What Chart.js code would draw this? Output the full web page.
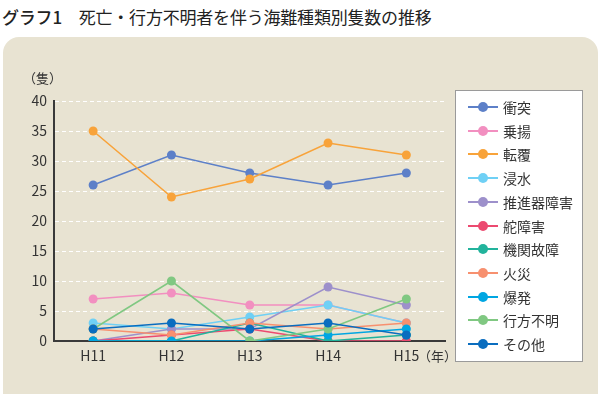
<!DOCTYPE html>
<html lang="ja">
<head>
<meta charset="utf-8">
<script src="https://cdn.jsdelivr.net/npm/chart.js@4/dist/chart.umd.min.js"></script>
<style>
  html, body { margin: 0; padding: 0; background: #fff; }
  body { width: 600px; height: 394px; position: relative; overflow: hidden;
         font-family: 'Noto Sans CJK JP', 'Noto Sans', sans-serif; color: #222; }
  #title { position: absolute; left: 2px; top: 4px; font-size: 17px; letter-spacing: -0.2px; white-space: pre; }
  #title b { font-weight: 500; }
  #panel { position: absolute; left: 3px; top: 37px; width: 595px; height: 380px;
           background: #e8e3d2; border-radius: 16px; }
  #wrap { position: absolute; left: 0; top: 0; width: 450px; height: 394px; }
  #unitY { position: absolute; left: 23px; top: 68px; font-size: 13px; color: #333; }
  #unitX { position: absolute; left: 418px; top: 346px; font-size: 13px; color: #333; }
  #legend { position: absolute; left: 455px; top: 90px; width: 128px; height: 272px;
            background: #fff; border: 1px solid #9a9a9a; box-sizing: border-box; }
  .item { position: absolute; left: 12px; height: 20px; display: flex; align-items: center; font-size: 14px; color: #333; }
  .mark { position: relative; width: 30px; height: 20px; margin-right: 5px; }
  .mark .ln { position: absolute; left: 0; right: 0; top: 9px; height: 2px; }
  .mark .dt { position: absolute; left: 10px; top: 5px; width: 10px; height: 10px; border-radius: 50%; }
</style>
</head>
<body>
<div id="title"><b>グラフ1</b>　死亡・行方不明者を伴う海難種類別隻数の推移</div>
<div id="panel"></div>
<div id="wrap"><canvas id="chart"></canvas></div>
<div id="unitY">（隻）</div>
<div id="unitX">（年）</div>
<div id="legend"></div>
<script>
const years = ['H11', 'H12', 'H13', 'H14', 'H15'];
const yTicks = [0, 5, 10, 15, 20, 25, 30, 35, 40];

const seriesNames = ['衝突', '乗揚', '転覆', '浸水', '推進器障害', '舵障害', '機関故障', '火災', '爆発', '行方不明', 'その他'];
const seriesColors = ['#5d80c8', '#f28fc0', '#f8a33a', '#6fd0f5', '#9d90cb', '#ec4a70', '#22b39c', '#f7906f', '#00a6e2', '#80c882', '#0a6dbf'];

const shoutotsu = [26, 31, 28, 26, 28];
const noriage = [7, 8, 6, 6, 3];
const tenpuku = [35, 24, 27, 33, 31];
const shinsui = [3, 2, 4, 6, 3];
const suishinki = [0, 2, 2, 9, 6];
const dashougai = [0, 1, 2, 0, 0];
const kikan = [0, 0, 3, 0, 1];
const kasai = [2, 1, 3, 2, 3];
const bakuhatsu = [0, 0, 0, 1, 2];
const yukuefumei = [2, 10, 0, 2, 7];
const sonota = [2, 3, 2, 3, 1];

const seriesValues = [shoutotsu, noriage, tenpuku, shinsui, suishinki, dashougai, kikan, kasai, bakuhatsu, yukuefumei, sonota];

const datasets = seriesNames.map((name, i) => ({
    label: name,
    data: seriesValues[i],
    borderColor: seriesColors[i],
    backgroundColor: seriesColors[i],
    borderWidth: 1.6,
    pointRadius: 4.5,
    pointBorderWidth: 0,
    pointHoverRadius: 4.5,
    tension: 0,
    order: seriesNames.length - i   // later series drawn on top
}));

const tickFont = { family: "'Noto Sans CJK JP', sans-serif", size: 14 };

new Chart(document.getElementById('chart').getContext('2d'), {
    type: 'line',
    data: { labels: years, datasets },
    options: {
        responsive: true,
        maintainAspectRatio: false,
        animation: false,
        layout: { padding: { top: 101, right: 4, left: 0, bottom: 0 } },
        plugins: { legend: { display: false }, tooltip: { enabled: false } },
        scales: {
            x: {
                offset: true,
                grid: { display: false, drawTicks: false },
                border: { color: '#3a3a3a', width: 2 },
                ticks: { color: '#333', padding: 6, font: tickFont },
                afterFit: s => { s.height = 53; }
            },
            y: {
                min: 0,
                max: 40,
                afterBuildTicks: s => { s.ticks = yTicks.map(v => ({ value: v })); },
                grid: { color: '#ffffff', lineWidth: 1, drawTicks: false },
                border: { color: '#3a3a3a', width: 2, dash: [4, 3] },
                ticks: { color: '#333', padding: 7, font: tickFont },
                afterFit: s => { s.width = 54; }
            }
        }
    }
});

const legendEl = document.getElementById('legend');
legendEl.innerHTML = seriesNames.map((name, i) => `
  <div class="item" style="top:${6 + i * 23.7}px">
    <div class="mark"><div class="ln" style="background:${seriesColors[i]}"></div><div class="dt" style="background:${seriesColors[i]}"></div></div>
    <span>${name}</span>
  </div>`).join('');
</script>
</body>
</html>
